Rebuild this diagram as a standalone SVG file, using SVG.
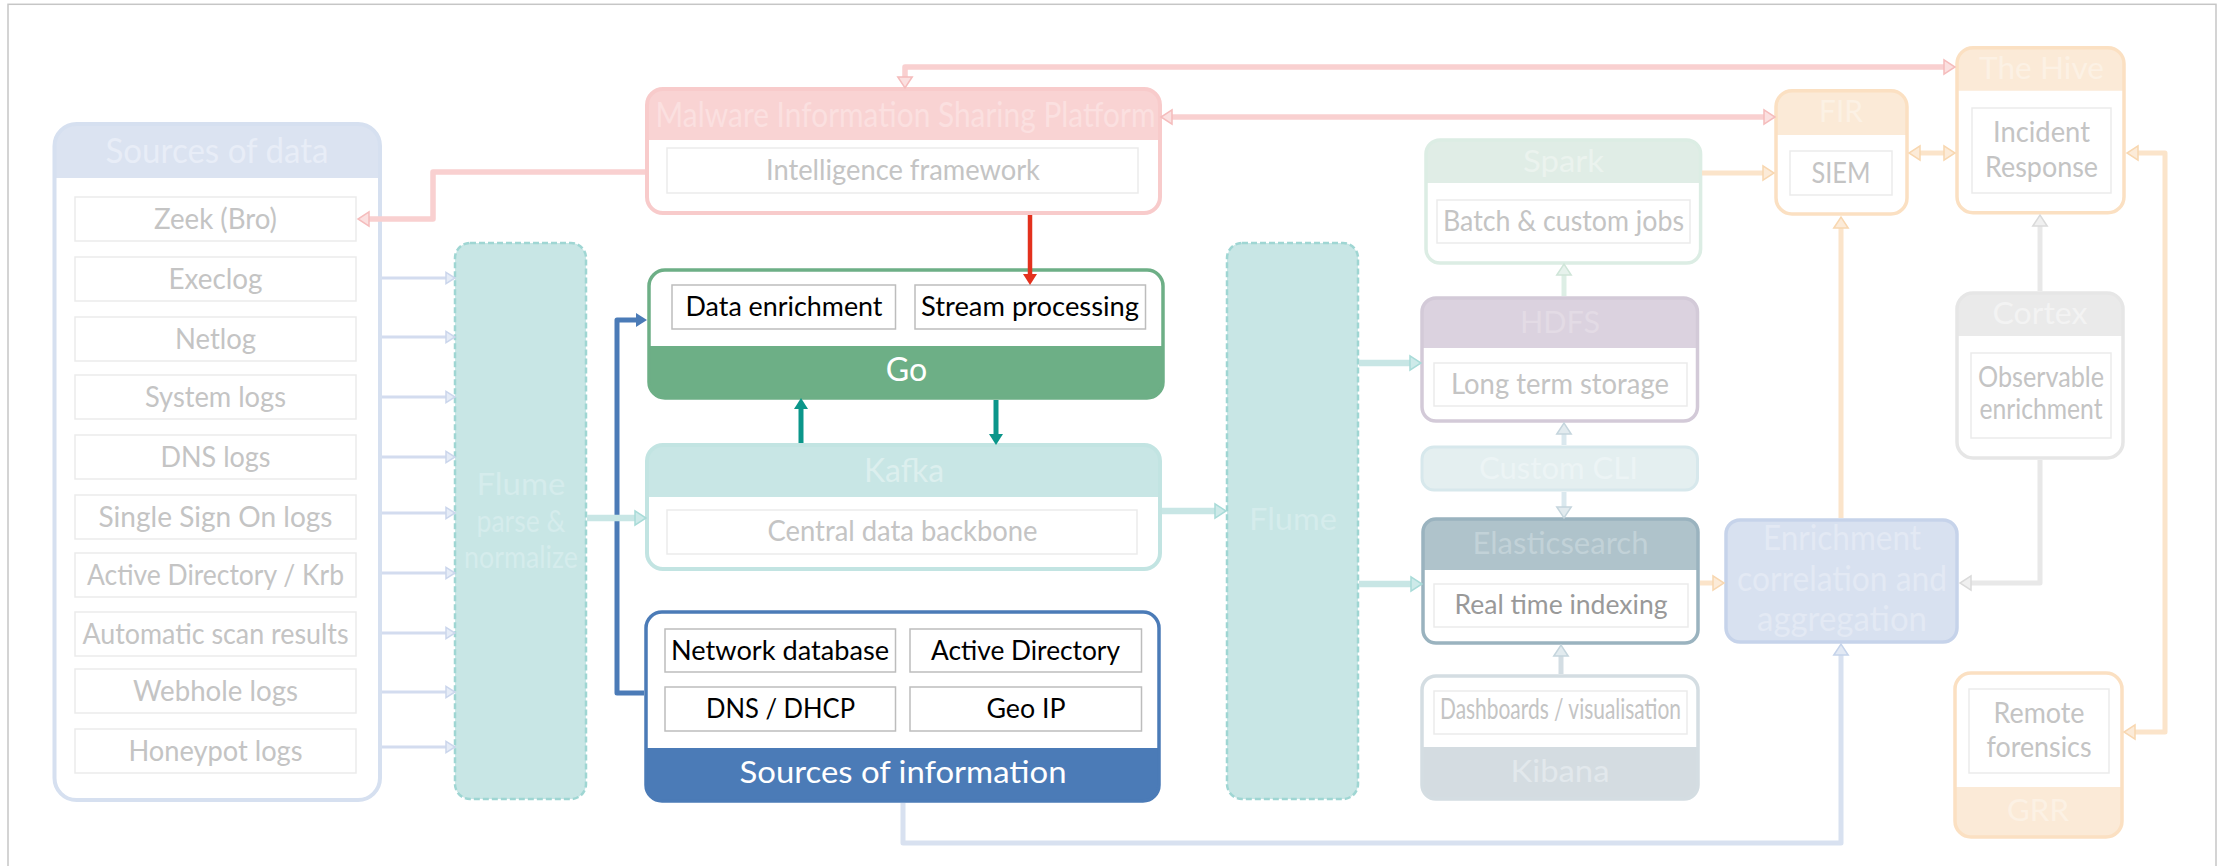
<svg xmlns="http://www.w3.org/2000/svg" width="2228" height="866" viewBox="0 0 2228 866">
<style>
text{font-family:Lato,"Liberation Sans",sans-serif;text-anchor:middle}
.bg{fill:#fff}
.item{fill:#fff;stroke:#ebebeb;stroke-width:1.5}
.itemk{fill:#fff;stroke:#bdbdbd;stroke-width:1.5}
.it{fill:#c4c4c4;font-size:28px}
.itk{fill:#000;font-size:26px}
.hd{font-size:31px}
.c{fill:none;stroke-linejoin:round;stroke-linecap:butt}
</style>
<defs>
<marker id="m-src" markerUnits="userSpaceOnUse" markerWidth="12" markerHeight="14" refX="0.8" refY="6.5" orient="auto-start-reverse" overflow="visible"><path d="M0.8,0.8 L9.8,6.5 L0.8,12.2 Z" fill="#e6ecf7" stroke="#cbd6ec" stroke-width="1.5"/></marker>
<marker id="m-pink" markerUnits="userSpaceOnUse" markerWidth="14" markerHeight="18" refX="0.8" refY="8" orient="auto-start-reverse" overflow="visible"><path d="M0.8,0.8 L11.8,8 L0.8,15.2 Z" fill="#fbe0e0" stroke="#f5bcbc" stroke-width="1.5"/></marker>
<marker id="m-tealp" markerUnits="userSpaceOnUse" markerWidth="14" markerHeight="18" refX="0.8" refY="8" orient="auto-start-reverse" overflow="visible"><path d="M0.8,0.8 L11.8,8 L0.8,15.2 Z" fill="#cdeae9" stroke="#a8dbd8" stroke-width="1.5"/></marker>
<marker id="m-orange" markerUnits="userSpaceOnUse" markerWidth="14" markerHeight="18" refX="0.8" refY="8" orient="auto-start-reverse" overflow="visible"><path d="M0.8,0.8 L11.8,8 L0.8,15.2 Z" fill="#fcebd8" stroke="#f8d7b0" stroke-width="1.5"/></marker>
<marker id="m-green" markerUnits="userSpaceOnUse" markerWidth="14" markerHeight="18" refX="0.8" refY="8" orient="auto-start-reverse" overflow="visible"><path d="M0.8,0.8 L11.8,8 L0.8,15.2 Z" fill="#e6f2ec" stroke="#cfe5d8" stroke-width="1.5"/></marker>
<marker id="m-slate" markerUnits="userSpaceOnUse" markerWidth="14" markerHeight="18" refX="0.8" refY="8" orient="auto-start-reverse" overflow="visible"><path d="M0.8,0.8 L11.8,8 L0.8,15.2 Z" fill="#e2ebef" stroke="#c5d5dd" stroke-width="1.5"/></marker>
<marker id="m-grey" markerUnits="userSpaceOnUse" markerWidth="14" markerHeight="18" refX="0.8" refY="8" orient="auto-start-reverse" overflow="visible"><path d="M0.8,0.8 L11.8,8 L0.8,15.2 Z" fill="#f0f0f0" stroke="#dadada" stroke-width="1.5"/></marker>
<marker id="m-bluep" markerUnits="userSpaceOnUse" markerWidth="14" markerHeight="18" refX="0.8" refY="8" orient="auto-start-reverse" overflow="visible"><path d="M0.8,0.8 L11.8,8 L0.8,15.2 Z" fill="#e2e9f4" stroke="#c5d3ea" stroke-width="1.5"/></marker>
<marker id="m-red" markerUnits="userSpaceOnUse" markerWidth="12" markerHeight="16" refX="0" refY="7" orient="auto" overflow="visible"><path d="M0,0 L11,7 L0,14 Z" fill="#e3311d"/></marker>
<marker id="m-teal" markerUnits="userSpaceOnUse" markerWidth="12" markerHeight="16" refX="0" refY="7" orient="auto" overflow="visible"><path d="M0,0 L11,7 L0,14 Z" fill="#0b968a"/></marker>
<marker id="m-blue" markerUnits="userSpaceOnUse" markerWidth="12" markerHeight="16" refX="0" refY="7" orient="auto" overflow="visible"><path d="M0,0 L11,7 L0,14 Z" fill="#4b7bb7"/></marker>
</defs>

<rect x="8" y="4.3" width="2208" height="900" fill="none" stroke="#c6c6c6" stroke-width="1.5"/>

<g id="sources-of-data">
<rect class="bg" x="54.5" y="124" width="325.5" height="676" rx="22"/>
<path d="M54.5,178 V146 A22,22 0 0 1 76.5,124 H358 A22,22 0 0 1 380,146 V178 Z" fill="#dbe3f1"/>
<rect x="54.5" y="124" width="325.5" height="676" rx="22" fill="none" stroke="#d6e0f0" stroke-width="4"/>
<text x="217" y="163" font-size="34" fill="#e8edf7" textLength="223" lengthAdjust="spacingAndGlyphs">Sources of data</text>
<rect class="item" x="75" y="197" width="281" height="44"/><text class="it" x="215.5" y="229" textLength="123" lengthAdjust="spacingAndGlyphs">Zeek (Bro)</text>
<rect class="item" x="75" y="257" width="281" height="44"/><text class="it" x="215.5" y="289" textLength="94" lengthAdjust="spacingAndGlyphs">Execlog</text>
<rect class="item" x="75" y="317" width="281" height="44"/><text class="it" x="215.5" y="349" textLength="81" lengthAdjust="spacingAndGlyphs">Netlog</text>
<rect class="item" x="75" y="375" width="281" height="44"/><text class="it" x="215.5" y="407" textLength="141" lengthAdjust="spacingAndGlyphs">System logs</text>
<rect class="item" x="75" y="435" width="281" height="44"/><text class="it" x="215.5" y="467" textLength="110" lengthAdjust="spacingAndGlyphs">DNS logs</text>
<rect class="item" x="75" y="495" width="281" height="44"/><text class="it" x="215.5" y="527" textLength="234" lengthAdjust="spacingAndGlyphs">Single Sign On logs</text>
<rect class="item" x="75" y="553" width="281" height="44"/><text class="it" x="215.5" y="585" textLength="257" lengthAdjust="spacingAndGlyphs">Active Directory / Krb</text>
<rect class="item" x="75" y="612" width="281" height="44"/><text class="it" x="215.5" y="644" textLength="266" lengthAdjust="spacingAndGlyphs">Automatic scan results</text>
<rect class="item" x="75" y="669" width="281" height="44"/><text class="it" x="215.5" y="701" textLength="165" lengthAdjust="spacingAndGlyphs">Webhole logs</text>
<rect class="item" x="75" y="729" width="281" height="44"/><text class="it" x="215.5" y="761" textLength="174" lengthAdjust="spacingAndGlyphs">Honeypot logs</text>
</g>

<g id="flume-parse">
<rect x="455" y="243" width="131" height="556" rx="15" fill="#c8e6e5" stroke="#9fd6d3" stroke-width="2.5" stroke-dasharray="6 3"/>
<text x="521" y="495" font-size="31" fill="#d5ecec" textLength="89" lengthAdjust="spacingAndGlyphs">Flume</text>
<text x="521" y="532" font-size="31" fill="#d5ecec" textLength="89" lengthAdjust="spacingAndGlyphs">parse &amp;</text>
<text x="521" y="568" font-size="31" fill="#d5ecec" textLength="114" lengthAdjust="spacingAndGlyphs">normalize</text>
</g>

<g id="misp">
<rect class="bg" x="647" y="89" width="513" height="124" rx="16"/>
<path d="M647,140 V105 A16,16 0 0 1 663,89 H1144 A16,16 0 0 1 1160,105 V140 Z" fill="#f9d3d3"/>
<rect x="647" y="89" width="513" height="124" rx="16" fill="none" stroke="#f8cbcb" stroke-width="4"/>
<text x="905.5" y="127" font-size="34" fill="#fbe0e0" textLength="500" lengthAdjust="spacingAndGlyphs">Malware Information Sharing Platform</text>
<rect class="item" x="667" y="148" width="471" height="45"/>
<text class="it" x="903" y="180" textLength="274" lengthAdjust="spacingAndGlyphs">Intelligence framework</text>
</g>

<g id="go">
<rect class="bg" x="649" y="270" width="514" height="128" rx="16"/>
<path d="M649,346 H1163 V382 A16,16 0 0 1 1147,398 H665 A16,16 0 0 1 649,382 Z" fill="#6daf86"/>
<rect x="649" y="270" width="514" height="128" rx="16" fill="none" stroke="#6daf86" stroke-width="3.5"/>
<rect class="itemk" x="672" y="285" width="223.5" height="44"/>
<text class="itk" x="784" y="316" textLength="197" lengthAdjust="spacingAndGlyphs">Data enrichment</text>
<rect class="itemk" x="915" y="285" width="230.5" height="44"/>
<text class="itk" x="1030" y="316" textLength="218" lengthAdjust="spacingAndGlyphs">Stream processing</text>
<text x="906.5" y="381" font-size="32" fill="#fff" textLength="41.5" lengthAdjust="spacingAndGlyphs">Go</text>
</g>

<g id="kafka">
<rect class="bg" x="647" y="445" width="513" height="124" rx="16"/>
<path d="M647,497 V461 A16,16 0 0 1 663,445 H1144 A16,16 0 0 1 1160,461 V497 Z" fill="#c8e6e5"/>
<rect x="647" y="445" width="513" height="124" rx="16" fill="none" stroke="#c2e4e2" stroke-width="4"/>
<text x="904" y="482" font-size="32" fill="#dcefee" textLength="80" lengthAdjust="spacingAndGlyphs">Kafka</text>
<rect class="item" x="667" y="510" width="470" height="44"/>
<text class="it" x="902.5" y="541" textLength="270" lengthAdjust="spacingAndGlyphs">Central data backbone</text>
</g>

<g id="sources-of-information">
<rect class="bg" x="646" y="612" width="513" height="189" rx="16"/>
<path d="M646,748 H1159 V785 A16,16 0 0 1 1143,801 H662 A16,16 0 0 1 646,785 Z" fill="#4b7bb7"/>
<rect x="646" y="612" width="513" height="189" rx="16" fill="none" stroke="#4b7bb7" stroke-width="3.5"/>
<rect class="itemk" x="665" y="629" width="230.5" height="43"/>
<text class="itk" x="780" y="660" textLength="218" lengthAdjust="spacingAndGlyphs">Network database</text>
<rect class="itemk" x="910" y="629" width="231.5" height="43"/>
<text class="itk" x="1025.5" y="660" textLength="189" lengthAdjust="spacingAndGlyphs">Active Directory</text>
<rect class="itemk" x="665" y="687" width="230.5" height="44"/>
<text class="itk" x="780.5" y="718" textLength="149" lengthAdjust="spacingAndGlyphs">DNS / DHCP</text>
<rect class="itemk" x="910" y="687" width="231.5" height="44"/>
<text class="itk" x="1026" y="718" textLength="79" lengthAdjust="spacingAndGlyphs">Geo IP</text>
<text x="903" y="783" font-size="31" fill="#fff" textLength="327" lengthAdjust="spacingAndGlyphs">Sources of information</text>
</g>

<g id="flume">
<rect x="1227" y="243" width="131" height="556" rx="15" fill="#c8e6e5" stroke="#9fd6d3" stroke-width="2.5" stroke-dasharray="6 3"/>
<text x="1293" y="530" font-size="31" fill="#d5ecec" textLength="88" lengthAdjust="spacingAndGlyphs">Flume</text>
</g>

<g id="spark">
<rect class="bg" x="1426" y="140" width="274.6" height="123" rx="14"/>
<path d="M1426,183 V154 A14,14 0 0 1 1440,140 H1686.6 A14,14 0 0 1 1700.6,154 V183 Z" fill="#e0ede6"/>
<rect x="1426" y="140" width="274.6" height="123" rx="14" fill="none" stroke="#dcede4" stroke-width="3.5"/>
<text x="1563.5" y="172" class="hd" fill="#ebf3ee" textLength="81" lengthAdjust="spacingAndGlyphs">Spark</text>
<rect class="item" x="1437" y="200" width="253" height="43"/>
<text class="it" x="1563.5" y="231" font-size="27" textLength="241" lengthAdjust="spacingAndGlyphs">Batch &amp; custom jobs</text>
</g>

<g id="hdfs">
<rect class="bg" x="1422" y="298" width="275.5" height="123" rx="14"/>
<path d="M1422,348 V312 A14,14 0 0 1 1436,298 H1683.5 A14,14 0 0 1 1697.5,312 V348 Z" fill="#dbd2df"/>
<rect x="1422" y="298" width="275.5" height="123" rx="14" fill="none" stroke="#d3cad8" stroke-width="3.5"/>
<text x="1560" y="333" class="hd" fill="#e3dbe5" textLength="80" lengthAdjust="spacingAndGlyphs">HDFS</text>
<rect class="item" x="1434" y="363" width="253" height="43"/>
<text class="it" x="1560" y="394" font-size="27" textLength="218" lengthAdjust="spacingAndGlyphs">Long term storage</text>
</g>

<g id="custom-cli">
<rect x="1422" y="447" width="275.5" height="43" rx="12" fill="#e4eff0" stroke="#d7e8ec" stroke-width="3"/>
<text x="1558.5" y="479" class="hd" fill="#ecf4f5" textLength="159" lengthAdjust="spacingAndGlyphs">Custom CLI</text>
</g>

<g id="elasticsearch">
<rect class="bg" x="1423" y="519" width="275" height="124" rx="13"/>
<path d="M1423,570 V532 A13,13 0 0 1 1436,519 H1685 A13,13 0 0 1 1698,532 V570 Z" fill="#afc3cb"/>
<rect x="1423" y="519" width="275" height="124" rx="13" fill="none" stroke="#9ab3bf" stroke-width="3.5"/>
<text x="1560.5" y="554" class="hd" fill="#c2d2d8" textLength="176" lengthAdjust="spacingAndGlyphs">Elasticsearch</text>
<rect class="item" x="1434" y="584" width="254" height="43"/>
<text x="1561" y="614" font-size="27" fill="#999" textLength="213" lengthAdjust="spacingAndGlyphs">Real time indexing</text>
</g>

<g id="kibana">
<rect class="bg" x="1422" y="676" width="276" height="123" rx="14"/>
<path d="M1422,747 H1698 V785 A14,14 0 0 1 1684,799 H1436 A14,14 0 0 1 1422,785 Z" fill="#d4dce1"/>
<rect x="1422" y="676" width="276" height="123" rx="14" fill="none" stroke="#d4dde2" stroke-width="3.5"/>
<rect class="item" x="1434" y="691" width="253" height="43"/>
<text class="it" x="1560.5" y="719" font-size="22" textLength="241" lengthAdjust="spacingAndGlyphs">Dashboards / visualisation</text>
<text x="1560" y="782" class="hd" fill="#e2e8ec" textLength="99" lengthAdjust="spacingAndGlyphs">Kibana</text>
</g>

<g id="fir">
<rect class="bg" x="1776" y="90.7" width="131" height="123.3" rx="16"/>
<path d="M1776,135 V106.7 A16,16 0 0 1 1792,90.7 H1891 A16,16 0 0 1 1907,106.7 V135 Z" fill="#fbead7"/>
<rect x="1776" y="90.7" width="131" height="123.3" rx="16" fill="none" stroke="#fbe0c2" stroke-width="3.5"/>
<text x="1841" y="122" class="hd" fill="#fcf1e4" textLength="44" lengthAdjust="spacingAndGlyphs">FIR</text>
<rect class="item" x="1790" y="151" width="102" height="44"/>
<text class="it" x="1841" y="183" textLength="59" lengthAdjust="spacingAndGlyphs">SIEM</text>
</g>

<g id="the-hive">
<rect class="bg" x="1957" y="47.7" width="167" height="165" rx="16"/>
<path d="M1957,90.7 V63.7 A16,16 0 0 1 1973,47.7 H2108 A16,16 0 0 1 2124,63.7 V90.7 Z" fill="#fbead7"/>
<rect x="1957" y="47.7" width="167" height="165" rx="16" fill="none" stroke="#fbe0c2" stroke-width="3.5"/>
<text x="2041.5" y="79" class="hd" fill="#fcf1e4" textLength="125" lengthAdjust="spacingAndGlyphs">The Hive</text>
<rect class="item" x="1972" y="108" width="139" height="85"/>
<text class="it" x="2041.5" y="142" textLength="97" lengthAdjust="spacingAndGlyphs">Incident</text>
<text class="it" x="2041.5" y="177" textLength="113" lengthAdjust="spacingAndGlyphs">Response</text>
</g>

<g id="cortex">
<rect class="bg" x="1957" y="293" width="166" height="165" rx="16"/>
<path d="M1957,336 V309 A16,16 0 0 1 1973,293 H2107 A16,16 0 0 1 2123,309 V336 Z" fill="#eaeaea"/>
<rect x="1957" y="293" width="166" height="165" rx="16" fill="none" stroke="#e6e6e6" stroke-width="3.5"/>
<text x="2040" y="324" class="hd" fill="#f3f3f3" textLength="95" lengthAdjust="spacingAndGlyphs">Cortex</text>
<rect class="item" x="1971" y="353" width="140" height="85"/>
<text class="it" x="2041" y="387" font-size="26" textLength="126" lengthAdjust="spacingAndGlyphs">Observable</text>
<text class="it" x="2041" y="419" font-size="26" textLength="123" lengthAdjust="spacingAndGlyphs">enrichment</text>
</g>

<g id="enrichment">
<rect x="1726" y="520" width="231" height="122" rx="14" fill="#d8e1f0" stroke="#c6d3ea" stroke-width="3.5"/>
<text x="1842" y="550" font-size="34" fill="#e3e9f4" textLength="158" lengthAdjust="spacingAndGlyphs">Enrichment</text>
<text x="1842" y="591" font-size="34" fill="#e3e9f4" textLength="210" lengthAdjust="spacingAndGlyphs">correlation and</text>
<text x="1842" y="631" font-size="34" fill="#e3e9f4" textLength="170" lengthAdjust="spacingAndGlyphs">aggregation</text>
</g>

<g id="grr">
<rect class="bg" x="1955" y="673" width="167" height="164" rx="16"/>
<path d="M1955,787 H2122 V821 A16,16 0 0 1 2106,837 H1971 A16,16 0 0 1 1955,821 Z" fill="#fbead7"/>
<rect x="1955" y="673" width="167" height="164" rx="16" fill="none" stroke="#fbe0c2" stroke-width="3.5"/>
<rect class="item" x="1969" y="689" width="140" height="84"/>
<text class="it" x="2039" y="723" font-size="27" textLength="91" lengthAdjust="spacingAndGlyphs">Remote</text>
<text class="it" x="2039" y="757" font-size="27" textLength="105" lengthAdjust="spacingAndGlyphs">forensics</text>
<text x="2038" y="821" class="hd" fill="#fcf1e4" textLength="62" lengthAdjust="spacingAndGlyphs">GRR</text>
</g>

<g id="connectors">
<g class="c" stroke="#d3dcef" stroke-width="3" marker-end="url(#m-src)">
<path d="M382,278 H446"/><path d="M382,337 H446"/><path d="M382,397 H446"/><path d="M382,457 H446"/><path d="M382,513 H446"/><path d="M382,573 H446"/><path d="M382,633 H446"/><path d="M382,692 H446"/><path d="M382,747 H446"/>
</g>
<g class="c" stroke="#f9d0d0" stroke-width="5.5">
<path d="M645,172 H433 V219 H369" marker-end="url(#m-pink)"/>
<path d="M905,77 V67 H1944" marker-start="url(#m-pink)" marker-end="url(#m-pink)"/>
<path d="M1172,117 H1764" marker-start="url(#m-pink)" marker-end="url(#m-pink)"/>
</g>
<path class="c" d="M1030,215 V274" stroke="#e3311d" stroke-width="4.5" marker-end="url(#m-red)"/>
<path class="c" d="M644,693 H617 V320 H636" stroke="#4b7bb7" stroke-width="5" marker-end="url(#m-blue)"/>
<path class="c" d="M801,443 V409" stroke="#0b968a" stroke-width="5" marker-end="url(#m-teal)"/>
<path class="c" d="M996,400 V434" stroke="#0b968a" stroke-width="5" marker-end="url(#m-teal)"/>
<g class="c" stroke="#c8e6e5" stroke-width="6.5" marker-end="url(#m-tealp)">
<path d="M587,518 H635"/><path d="M1162,511 H1215"/><path d="M1359,363 H1410"/><path d="M1359,584 H1411"/>
</g>
<path class="c" d="M1564,296 V275" stroke="#ddeee5" stroke-width="5" marker-end="url(#m-green)"/>
<g class="c" stroke="#dae8ee" stroke-width="5" marker-end="url(#m-slate)">
<path d="M1564,445 V434"/><path d="M1564,492 V507"/>
</g>
<path class="c" d="M1561,674 V656" stroke="#d3dde3" stroke-width="5" marker-end="url(#m-slate)"/>
<g class="c" stroke="#fbe4ca" stroke-width="5">
<path d="M1702,173 H1763" marker-end="url(#m-orange)"/>
<path d="M1700,583 H1713" marker-end="url(#m-orange)"/>
<path d="M1841,518 V228" marker-end="url(#m-orange)"/>
<path d="M1920,153 H1944" marker-start="url(#m-orange)" marker-end="url(#m-orange)"/>
<path d="M2138,153 H2165 V732 H2135" marker-start="url(#m-orange)" marker-end="url(#m-orange)"/>
</g>
<g class="c" stroke="#e8e8e8" stroke-width="5" marker-end="url(#m-grey)">
<path d="M2040,291 V226"/><path d="M2040,460 V583 H1971"/>
</g>
<path class="c" d="M903,803 V843 H1841 V655" stroke="#d8e1f0" stroke-width="5" marker-end="url(#m-bluep)"/>
</g>
</svg>
